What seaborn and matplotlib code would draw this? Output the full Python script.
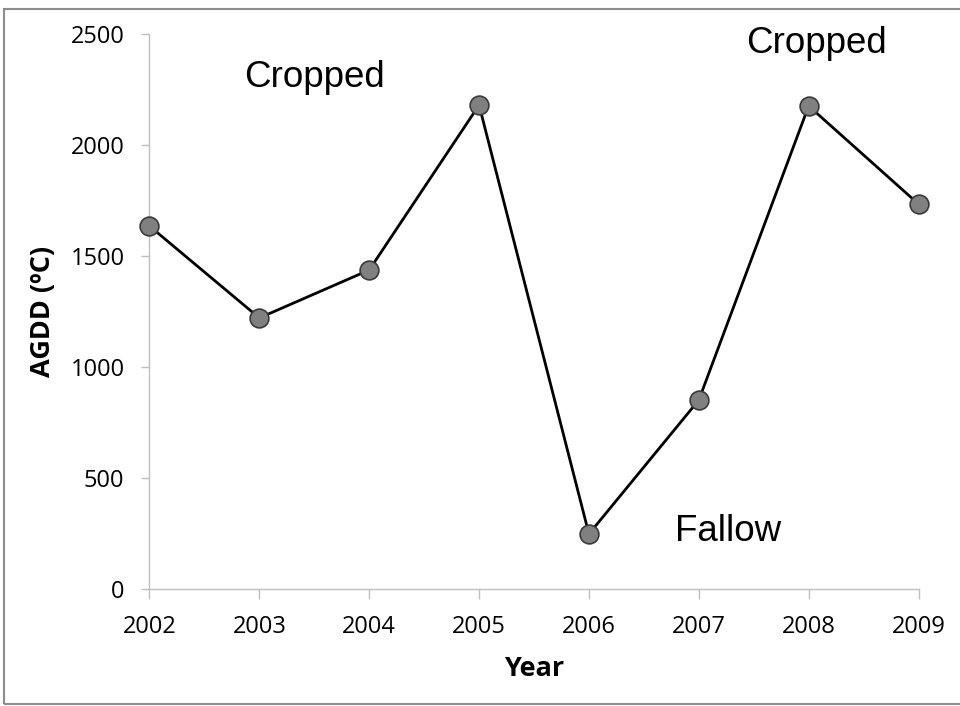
import matplotlib
matplotlib.use("Agg")
import matplotlib.pyplot as plt
import seaborn as sns
import pandas as pd
from matplotlib.patches import Rectangle

# AGDD per year
years = [2002, 2003, 2004, 2005, 2006, 2007, 2008, 2009]
agdd = [1635, 1221, 1437, 2180, 248, 851, 2176, 1734]

notes = ["Cropped", "Cropped", "Fallow"]
note_x = [2003.5, 2008.07, 2007.27]
note_y = [2306, 2459, 261]

df = pd.DataFrame({"Year": years, "AGDD": agdd})

sns.set_style("white")
plt.rcParams["font.family"] = ["Open Sans", "DejaVu Sans"]
plt.rcParams["text.color"] = "black"

fig = plt.figure(figsize=(9.6, 7.06), dpi=100)
ax = fig.add_axes([0.1557, 0.1657, 0.8011, 0.7861])

sns.lineplot(data=df, x="Year", y="AGDD", ax=ax, color="black", linewidth=2,
             marker="o", markersize=13.5, markerfacecolor="#808080",
             markeredgecolor="#3a3a3a", markeredgewidth=1.2, clip_on=False, zorder=5)

ax.set_xlim(2002, 2009)
ax.set_ylim(0, 2500)
ax.set_xticks(years)
ax.set_yticks([0, 500, 1000, 1500, 2000, 2500])
ax.tick_params(axis="both", labelsize=17, labelcolor="black", bottom=True, left=True)
ax.tick_params(axis="y", direction="out", length=6, width=1, color="#bfbfbf", pad=12)
ax.tick_params(axis="x", direction="out", length=7, width=1, color="#bfbfbf", pad=12)

for s in ["top", "right"]:
    ax.spines[s].set_visible(False)
for s in ["left", "bottom"]:
    ax.spines[s].set_color("#bfbfbf")
    ax.spines[s].set_linewidth(1)

ax.set_xlabel("Year", fontsize=19.5, fontweight="bold", labelpad=12, color="black")
ax.set_ylabel("AGDD (ºC)", fontsize=19.5, fontweight="bold", labelpad=10, color="black")

for t, x, y in zip(notes, note_x, note_y):
    ax.text(x, y, t, ha="center", va="center", fontsize=26.5, color="black",
            family=["Liberation Sans", "DejaVu Sans"])

# thin frame around the chart
fig.patches.append(Rectangle((4 / 960, 2 / 706), 960, 695 / 706, transform=fig.transFigure,
                             fill=False, edgecolor="#8c8c8c", linewidth=1.5))

fig.savefig("out.png", dpi=100)
